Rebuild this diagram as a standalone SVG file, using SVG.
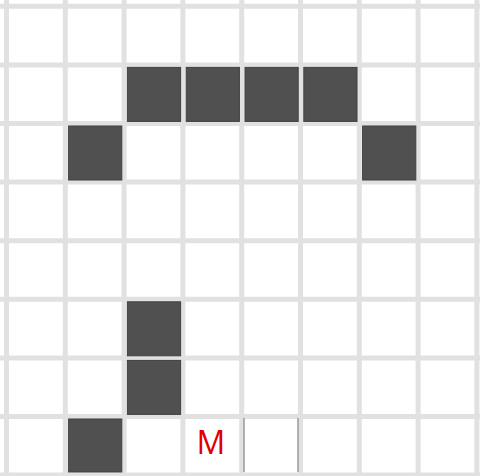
<svg xmlns="http://www.w3.org/2000/svg" width="480" height="476" viewBox="0 0 480 476">
  <style>
    .grid { stroke: #e1e1e1; stroke-width: 5; fill: none; }
    .cell { fill: #505050; stroke: #404040; stroke-width: 1; }
    .mark { stroke: #9a9a9a; stroke-width: 1.5; }
    .label { font-family: "Open Sans", "Liberation Sans", sans-serif; font-size: 32px; fill: #e00000; text-anchor: middle; }
  </style>
  <rect x="0" y="0" width="480" height="476" fill="#ffffff"/>
  <g id="grid">
    <path class="grid" d="M6.5 0V476 M65.3 0V476 M124.1 0V476 M182.9 0V476 M241.7 0V476 M300.5 0V476 M359.3 0V476 M418.1 0V476 M476.9 0V476
      M0 6.3H480 M0 64.9H480 M0 123.5H480 M0 182.1H480 M0 240.7H480 M0 299.3H480 M0 357.9H480 M0 416.5H480 M0 475.1H480"/>
  </g>
  <g id="cells">
    <g id="r1c2"><rect class="cell" x="127.4" y="67.4" width="53.2" height="54"/></g>
    <g id="r1c3"><rect class="cell" x="186.2" y="67.4" width="53.2" height="54"/></g>
    <g id="r1c4"><rect class="cell" x="245.0" y="67.4" width="53.2" height="54"/></g>
    <g id="r1c5"><rect class="cell" x="303.8" y="67.4" width="53.2" height="54"/></g>
    <g id="r2c1"><rect class="cell" x="68.6" y="126.0" width="53.2" height="54"/></g>
    <g id="r2c6"><rect class="cell" x="362.6" y="126.0" width="53.2" height="54"/></g>
    <g id="r5c2"><rect class="cell" x="127.4" y="301.8" width="53.2" height="54"/></g>
    <g id="r6c2"><rect class="cell" x="127.4" y="360.4" width="53.2" height="54"/></g>
    <g id="r7c1"><rect class="cell" x="68.6" y="419.0" width="53.2" height="53"/></g>
  </g>
  <g id="r7c4">
    <line class="mark" x1="244" y1="418" x2="244" y2="472"/>
    <line class="mark" x1="298" y1="418" x2="298" y2="472"/>
  </g>
  <g id="r7c3">
    <text class="label" x="211" y="453.5">M</text>
  </g>
</svg>
